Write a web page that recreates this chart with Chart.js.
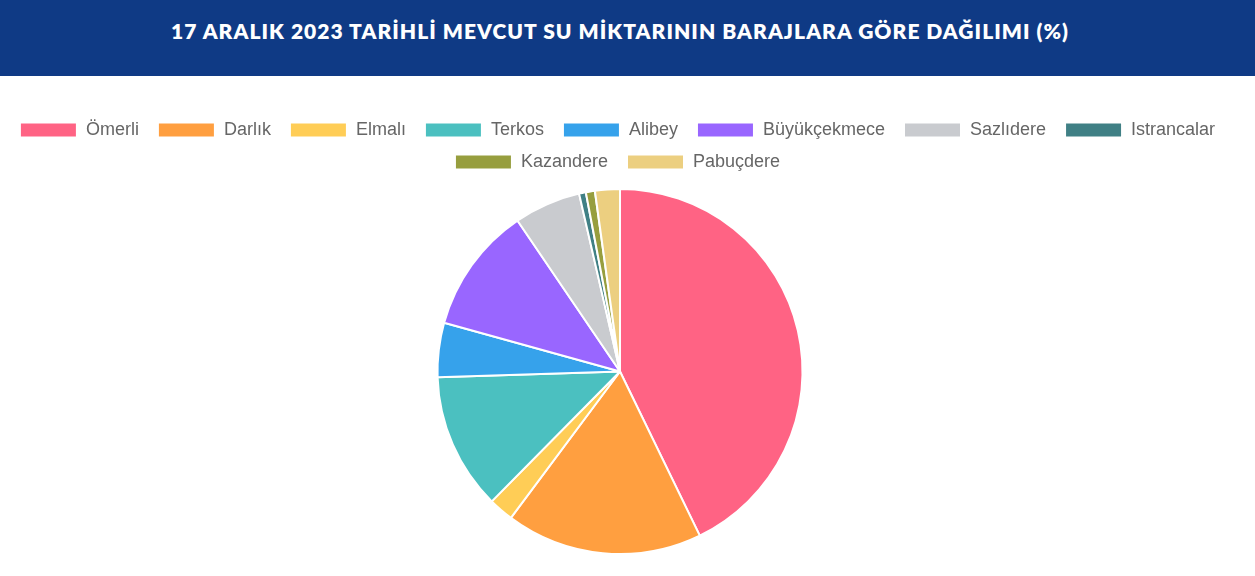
<!DOCTYPE html>
<html>
<head>
<meta charset="utf-8">
<script src="https://cdn.jsdelivr.net/npm/chart.js@4"></script>
<style>
  html, body { margin: 0; padding: 0; background: #fff; width: 1255px; height: 576px; overflow: hidden; }
  #header { height: 76px; background: #0f3a85; color: #fff; font-family: Lato, "Open Sans", sans-serif; font-weight: 800; font-size: 21px; text-align: center; line-height: 62px; letter-spacing: 1.05px; padding-right: 15px; }
  #wrap { position: relative; width: 1240px; height: 500px; }
</style>
</head>
<body>
<div id="header">17 ARALIK 2023 TARİHLİ MEVCUT SU MİKTARININ BARAJLARA GÖRE DAĞILIMI (%)</div>
<div id="wrap"><canvas id="c"></canvas></div>
<script>
const categories = ["Ömerli", "Darlık", "Elmalı", "Terkos", "Alibey", "Büyükçekmece", "Sazlıdere", "Istrancalar", "Kazandere", "Pabuçdere"];
const shareValues = [42.8, 17.4, 2.2, 12.1, 4.8, 11.2, 5.9, 0.6, 0.8, 2.2];
const sliceColors = ["#ff6384", "#ff9f40", "#ffcd56", "#4bc0c0", "#36a2eb", "#9966ff", "#c9cbcf", "#408085", "#979e3e", "#eccf80"];

const legendSpacer = {
  id: 'legendSpacer',
  beforeInit(chart) {
    const origFit = chart.legend.fit;
    chart.legend.fit = function () {
      origFit.call(this);
      this.height += 7;
    };
  }
};

new Chart(document.getElementById('c'), {
  type: 'pie',
  data: {
    labels: categories,
    datasets: [{ data: shareValues, backgroundColor: sliceColors, borderColor: '#fff', borderWidth: 2 }]
  },
  plugins: [legendSpacer],
  options: {
    responsive: true,
    maintainAspectRatio: false,
    animation: false,
    layout: { padding: { top: 31, bottom: 21 } },
    plugins: {
      legend: {
        position: 'top',
        labels: {
          boxWidth: 57,
          boxHeight: 15,
          padding: 14,
          color: '#666',
          font: { family: '"Liberation Sans", Arial, sans-serif', size: 18 },
          generateLabels(chart) {
            const items = Chart.overrides.pie.plugins.legend.labels.generateLabels(chart);
            items.forEach(it => { it.text = it.text + ' '; });
            return items;
          }
        }
      },
      tooltip: { enabled: false }
    }
  }
});
</script>
</body>
</html>
